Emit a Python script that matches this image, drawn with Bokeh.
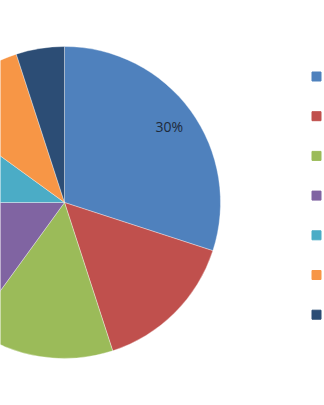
import math
from bokeh.plotting import figure
from bokeh.models import ColumnDataSource, Range1d
from bokeh.embed import file_html
from bokeh.resources import INLINE
from bokeh.core.properties import value

categories = ["Cat 1", "Cat 2", "Cat 3", "Cat 4", "Cat 5", "Cat 6", "Cat 7"]
shares = [30, 15, 15, 15, 10, 10, 5]
colors = ["#4F81BD", "#C0504D", "#9BBB59", "#8064A2", "#4BACC6", "#F79646", "#2C4D75"]
label_text = ["30%", "", "", "", "", "", ""]

W, H = 324, 405
cx, cy, R = 64, H - 202, 156

total = sum(shares)
starts, ends, lx, ly = [], [], [], []
cum = 0
for s in shares:
    a0 = math.pi / 2 - cum / total * 2 * math.pi
    cum += s
    a1 = math.pi / 2 - cum / total * 2 * math.pi
    starts.append(a0)
    ends.append(a1)
    mid = (a0 + a1) / 2
    lx.append(cx + 0.83 * R * math.cos(mid))
    ly.append(cy + 0.83 * R * math.sin(mid))

src = ColumnDataSource(dict(cat=categories, share=shares, color=colors,
                            start=starts, end=ends, lx=lx, ly=ly, lab=label_text))

p = figure(width=W, height=H, output_backend="svg", toolbar_location=None,
           x_range=Range1d(0, W), y_range=Range1d(0, H), min_border=0)
p.axis.visible = False
p.grid.visible = False
p.outline_line_color = None
p.background_fill_color = "white"

p.wedge(x=cx, y=cy, radius=R, start_angle="start", end_angle="end", direction="clock",
        fill_color="color", line_color="white", line_width=0.5, line_alpha=0.7, source=src)

p.text(x="lx", y="ly", text="lab", source=src, text_align="center", text_baseline="middle",
       text_font=value("Open Sans"), text_font_size="14px", text_color="#1e2a3a")

# legend squares
leg_x = [316] * len(categories)
leg_y = [H - (76 + 39.7 * i) for i in range(len(categories))]
p.scatter(x=leg_x, y=leg_y, marker="square", size=9, fill_color=colors, line_color=colors)

open("out.html", "w").write(file_html(p, INLINE))
